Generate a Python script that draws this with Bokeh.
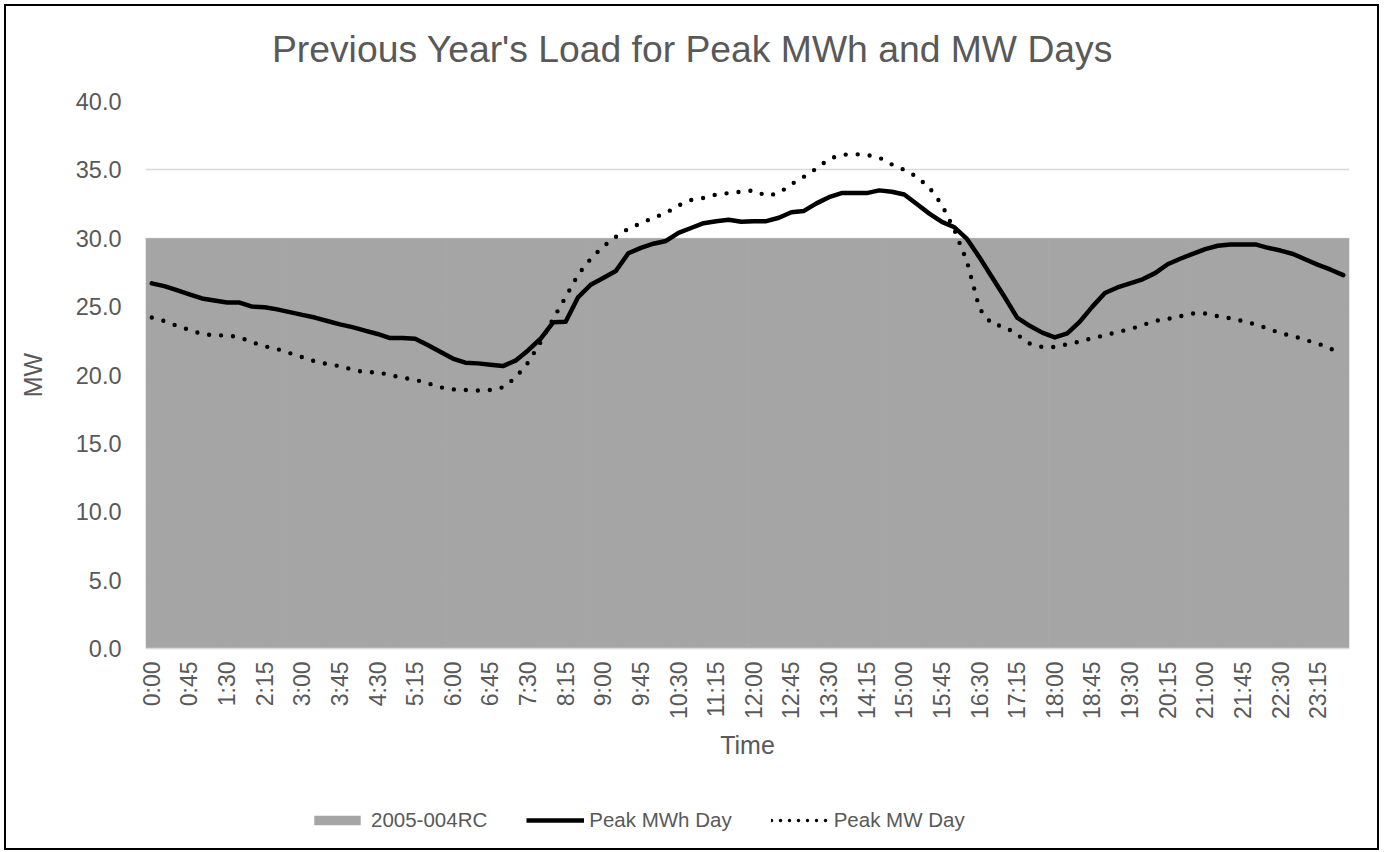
import math
from bokeh.plotting import figure
from bokeh.layouts import column
from bokeh.models import (FixedTicker, NumeralTickFormatter, Legend, LegendItem,
                          Range1d, ColumnDataSource, Label)
from bokeh.embed import file_html
from bokeh.resources import INLINE

# ---- data ----
chart_title = "Previous Year's Load for Peak MWh and MW Days"
times = [f"{h}:{m:02d}" for h in range(24) for m in (0, 15, 30, 45)]
tick_labels = times[::3]

rc_2005_004 = [30.0] * 96

peak_mwh_day = [
    26.7, 26.5, 26.2, 25.9, 25.6, 25.45, 25.3, 25.3, 25.0, 24.95, 24.8, 24.6,
    24.4, 24.2, 23.95, 23.7, 23.5, 23.25, 23.0, 22.7, 22.7, 22.65, 22.2, 21.7,
    21.2, 20.9, 20.85, 20.75, 20.65, 21.05, 21.8, 22.65, 23.85, 23.9, 25.7, 26.6,
    27.1, 27.6, 28.9, 29.3, 29.6, 29.8, 30.4, 30.75, 31.1, 31.25, 31.35, 31.2,
    31.25, 31.25, 31.5, 31.9, 32.0, 32.55, 33.0, 33.3, 33.3, 33.3, 33.5, 33.4,
    33.2, 32.5, 31.8, 31.2, 30.8, 29.95, 28.6, 27.15, 25.7, 24.2, 23.6, 23.1,
    22.75, 23.05, 23.9, 25.0, 26.0, 26.4, 26.7, 27.0, 27.45, 28.1, 28.5, 28.85,
    29.2, 29.45, 29.55, 29.55, 29.55, 29.3, 29.1, 28.85, 28.45, 28.05, 27.7, 27.3,
]

peak_mw_day = [
    24.2, 23.95, 23.6, 23.3, 23.0, 22.9, 22.9, 22.75, 22.4, 22.1, 21.9, 21.6,
    21.3, 21.0, 20.8, 20.65, 20.4, 20.2, 20.2, 20.0, 19.8, 19.65, 19.4, 19.1,
    18.95, 18.9, 18.87, 18.9, 19.1, 19.8, 20.9, 22.4, 24.1, 25.7, 27.35, 28.5,
    29.4, 30.1, 30.7, 31.1, 31.5, 31.85, 32.4, 32.8, 32.95, 33.2, 33.3, 33.4,
    33.5, 33.1, 33.3, 33.95, 34.5, 35.1, 35.8, 36.1, 36.15, 36.1, 35.9, 35.4,
    35.0, 34.5, 33.7, 32.45, 30.6, 28.3, 24.85, 23.7, 23.55, 22.95, 22.3, 22.05,
    22.05, 22.25, 22.45, 22.7, 22.9, 23.15, 23.35, 23.65, 23.95, 24.1, 24.3, 24.5,
    24.5, 24.3, 24.15, 23.95, 23.7, 23.4, 23.05, 22.85, 22.55, 22.3, 21.9, 21.7,
]

y_ticks = [0, 5, 10, 15, 20, 25, 30, 35, 40]
series_names = ["2005-004RC", "Peak MWh Day", "Peak MW Day"]

# ---- styles ----
FONT = "Liberation Sans"
TXT = "#595959"
AREA = "#a5a5a5"
BORDER = "2px solid #000000"
W = 1375


def strip(height, styles):
    f = figure(width=W, height=height, output_backend="svg", toolbar_location=None,
               x_axis_type=None, y_axis_type=None,
               x_range=Range1d(0, 1), y_range=Range1d(0, 1),
               min_border_left=0, min_border_right=0, min_border_top=0,
               min_border_bottom=0)
    f.styles = styles
    f.outline_line_color = None
    f.xgrid.visible = False
    f.ygrid.visible = False
    f.border_fill_color = "white"
    f.background_fill_color = "white"
    return f


# ---- title strip ----
tf = strip(75, {"border-top": BORDER, "border-left": BORDER, "border-right": BORDER})
tf.add_layout(Label(x=547, y=33, x_units="screen", y_units="screen",
                    text=chart_title, text_align="center",
                    text_baseline="alphabetic", text_font=FONT,
                    text_font_size="37.3px", text_color=TXT))

# ---- main chart ----
idx = list(range(len(times)))
src = ColumnDataSource(dict(x=idx, t=times, rc=rc_2005_004,
                            mwh=peak_mwh_day, mw=peak_mw_day))

p = figure(width=W, height=711, output_backend="svg", toolbar_location=None,
           x_range=Range1d(-0.5, len(times) - 0.5), y_range=Range1d(0, 40),
           min_border_left=139, min_border_right=32, min_border_top=22,
           min_border_bottom=142)
p.styles = {"border-left": BORDER, "border-right": BORDER}
p.outline_line_color = None
p.background_fill_color = "white"
p.border_fill_color = "white"

p.vbar(x="x", top="rc", width=1.06, source=src, fill_color=AREA, line_color=None)
p.line(x="x", y="mwh", source=src, line_color="#000000", line_width=4.5,
       line_join="round", line_cap="round")
p.line(x="x", y="mw", source=src, line_color="#000000", line_width=4.4,
       line_dash="0 12", line_cap="round", line_join="round")

p.xaxis.ticker = FixedTicker(ticks=idx[::3])
p.xaxis.major_label_overrides = {i: t for i, t in zip(idx[::3], tick_labels)}
p.xaxis.major_label_orientation = math.pi / 2
p.xaxis.major_label_text_font = FONT
p.xaxis.major_label_text_font_size = "23px"
p.xaxis.major_label_text_color = TXT
p.xaxis.major_label_standoff = 7
p.xaxis.major_tick_line_color = None
p.xaxis.minor_tick_line_color = None
p.xaxis.axis_line_color = "#d9d9d9"
p.xaxis.axis_line_width = 1.5
p.xaxis.axis_label = "Time"
p.xaxis.axis_label_text_font = FONT
p.xaxis.axis_label_text_font_size = "25px"
p.xaxis.axis_label_text_font_style = "normal"
p.xaxis.axis_label_text_color = TXT
p.xaxis.axis_label_standoff = 9

p.yaxis.ticker = FixedTicker(ticks=y_ticks)
p.yaxis.formatter = NumeralTickFormatter(format="0.0")
p.yaxis.major_label_text_font = FONT
p.yaxis.major_label_text_font_size = "23.5px"
p.yaxis.major_label_text_color = TXT
p.yaxis.major_label_standoff = 18
p.yaxis.major_tick_line_color = None
p.yaxis.minor_tick_line_color = None
p.yaxis.axis_line_color = None
p.yaxis.axis_label = "MW"
p.yaxis.axis_label_text_font = FONT
p.yaxis.axis_label_text_font_size = "25px"
p.yaxis.axis_label_text_font_style = "normal"
p.yaxis.axis_label_text_color = TXT
p.yaxis.axis_label_standoff = 26

p.xgrid.grid_line_color = None
p.ygrid.ticker = FixedTicker(ticks=y_ticks)
p.ygrid.grid_line_color = "#d9d9d9"
p.ygrid.grid_line_width = 1.5

# ---- legend strip (same series styles, samples kept outside the view) ----
lf = strip(60, {"border-bottom": BORDER, "border-left": BORDER, "border-right": BORDER})
hidden = ColumnDataSource(dict(x=[-10, -9], y=[-10, -10]))
g_rc = lf.vbar(x="x", top="y", width=1, source=hidden, fill_color=AREA, line_color=None)
g_mwh = lf.line(x="x", y="y", source=hidden, line_color="#000000", line_width=4.5)
g_mw = lf.line(x="x", y="y", source=hidden, line_color="#000000", line_width=3.5,
               line_dash="0 9", line_cap="round")

legend = Legend(items=[
    LegendItem(label=series_names[0], renderers=[g_rc]),
    LegendItem(label=series_names[1], renderers=[g_mwh]),
    LegendItem(label=series_names[2], renderers=[g_mw]),
], orientation="horizontal", location=(163, 18))
legend.label_text_font = FONT
legend.label_text_font_size = "20.5px"
legend.label_text_color = TXT
legend.glyph_width = 58
legend.glyph_height = 12
legend.label_standoff = 5
legend.spacing = 39
legend.padding = 4
legend.margin = 0
legend.background_fill_alpha = 0
legend.border_line_color = None
lf.add_layout(legend, "center")

layout = column(tf, p, lf, spacing=0,
                styles={"margin-left": "4px", "margin-top": "4px"})

open("out.html", "w").write(file_html(layout, INLINE))
